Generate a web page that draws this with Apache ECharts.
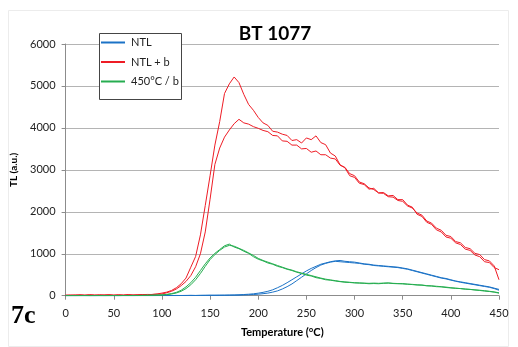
<!DOCTYPE html>
<html>
<head>
<meta charset="utf-8">
<script src="https://cdn.jsdelivr.net/npm/echarts@6/dist/echarts.min.js"></script>
<style>
  html, body { margin: 0; padding: 0; background: #fff; }
  #chart { width: 518px; height: 347px; }
</style>
</head>
<body>
<div id="chart"></div>
<script>
// Temperature grid (°C)
var temps = [0,5,10,15,20,25,30,35,40,45,50,55,60,65,70,75,80,85,90,95,
  100,105,110,115,120,125,130,135,140,145,150,155,160,165,170,175,180,185,190,195,
  200,205,210,215,220,225,230,235,240,245,250,255,260,265,270,275,280,285,290,295,
  300,305,310,315,320,325,330,335,340,345,350,355,360,365,370,375,380,385,390,395,
  400,405,410,415,420,425,430,435,440,445,450];

// NTL + b, two aliquots
var ntlbA = [10,18,8,22,14,20,9,24,15,19,12,21,16,26,14,22,27,20,31,42,
  62,85,125,190,285,420,680,935,1450,2150,2860,3590,4150,4820,5050,5214,5080,4800,4560,4420,
  4250,4120,4060,3920,3900,3850,3820,3700,3720,3640,3760,3720,3810,3650,3600,3400,3330,3120,3050,2860,
  2820,2680,2650,2540,2560,2450,2460,2380,2390,2290,2290,2160,2110,1940,1890,1750,1700,1570,1520,1400,
  1370,1260,1220,1110,1080,970,930,810,790,670,620];
var ntlbB = [12,8,20,15,10,22,18,9,16,24,13,19,11,23,17,21,25,30,28,35,
  40,70,105,160,240,340,480,690,1000,1520,2300,3130,3520,3780,3950,4100,4205,4120,4090,4030,
  3990,3940,3910,3820,3810,3690,3680,3590,3590,3500,3510,3420,3450,3360,3360,3280,3260,3110,3060,2910,
  2860,2710,2670,2570,2530,2450,2440,2360,2350,2270,2250,2140,2090,1970,1920,1780,1730,1610,1560,1440,
  1410,1290,1260,1150,1120,1010,980,860,830,710,380];

// 450°C / b, two aliquots
var regA = [0,2,0,3,1,0,2,4,1,0,3,2,5,3,6,4,8,10,12,15,
  20,32,50,80,130,210,310,440,600,760,900,1010,1100,1190,1230,1160,1120,1060,1010,930,
  870,830,780,750,700,670,630,600,560,530,490,470,430,410,380,370,350,335,320,315,
  305,300,295,285,290,285,295,300,290,285,290,275,265,255,250,235,230,215,210,195,
  185,175,170,155,150,135,125,110,100,85,60];
var regB = [1,0,2,1,3,0,1,2,0,4,2,1,3,5,2,6,5,9,11,13,
  15,25,40,65,105,170,260,380,530,700,860,980,1080,1160,1200,1180,1130,1080,1020,960,
  890,840,800,760,720,680,640,610,570,540,510,480,450,420,395,375,360,340,330,320,
  310,305,300,295,300,295,300,305,295,290,280,275,270,260,255,240,235,225,215,205,
  190,180,170,160,150,140,130,120,105,90,70];

// NTL, two aliquots
var ntlA = [0,1,0,2,0,1,0,0,2,1,0,1,2,0,1,3,2,1,2,4,3,5,4,6,5,7,8,6,9,10,12,11,14,13,16,18,
  22,28,35,45,60,80,105,140,190,245,310,380,450,520,590,650,700,750,780,810,830,840,820,810,
  800,780,760,750,730,720,710,700,690,680,660,640,610,580,550,520,490,460,430,410,
  380,350,330,310,290,270,250,230,210,180,150];
var ntlB = [0,0,1,0,2,1,0,1,0,2,1,0,1,2,1,0,2,3,1,2,3,2,4,3,5,4,6,5,6,7,8,9,8,10,11,12,
  14,18,22,28,36,48,62,85,115,160,215,280,360,440,520,600,670,730,770,800,820,810,800,790,
  780,770,750,740,720,710,700,690,680,670,650,630,600,570,540,510,480,450,420,400,
  370,345,320,300,280,260,240,220,200,170,130];

var xTicks = [0, 450, 50];     // min, max, step
var yTicks = [0, 6000, 1000];

var font = 'Lato, "Open Sans", sans-serif';
var colBlue = '#1b72c6', colRed = '#ee1c25', colGreen = '#26ad50';

function pairs(vals) {
  return temps.map(function (t, i) { return [t, vals[i]]; });
}
function curve(name, vals, color) {
  return {
    name: name, type: 'line', data: pairs(vals),
    showSymbol: false, symbol: 'none', smooth: false,
    lineStyle: { color: color, width: 1 }, itemStyle: { color: color },
    animation: false
  };
}

var chart = echarts.init(document.getElementById('chart'), null, { renderer: 'canvas' });
chart.setOption({
  backgroundColor: '#fff',
  animation: false,
  grid: { left: 65.6, right: 19, top: 44, bottom: 51.3, containLabel: false },
  legend: {
    orient: 'vertical', left: 101, top: 37, padding: 0, itemGap: 8.5,
    itemWidth: 24, itemHeight: 2, icon: 'rect',
    data: ['NTL', 'NTL + b', '450°C / b'],
    textStyle: { fontFamily: font, fontSize: 11, color: '#222', padding: [0, 0, 0, 1] },
    z: 10
  },
  xAxis: {
    type: 'value', min: xTicks[0], max: xTicks[1], interval: xTicks[2],
    name: 'Temperature (°C)', nameLocation: 'middle', nameGap: 31,
    nameTextStyle: { fontFamily: font, fontWeight: 'bold', fontSize: 11, color: '#000' },
    axisLine: { show: true, lineStyle: { color: '#8c8c8c', width: 1 } },
    axisTick: { show: true, inside: false, length: 4, lineStyle: { color: '#8c8c8c' } },
    axisLabel: { fontFamily: font, fontSize: 11, color: '#222', margin: 12 },
    splitLine: { show: false }
  },
  yAxis: {
    type: 'value', min: yTicks[0], max: yTicks[1], interval: yTicks[2],
    name: 'TL (a.u.)', nameLocation: 'middle', nameGap: 42, nameRotate: 90,
    nameTextStyle: { fontFamily: font, fontWeight: 'bold', fontSize: 10, color: '#000' },
    axisLine: { show: true, lineStyle: { color: '#8c8c8c', width: 1 } },
    axisTick: { show: true, inside: false, length: 4, lineStyle: { color: '#8c8c8c' } },
    axisLabel: { fontFamily: font, fontSize: 11, color: '#222', margin: 10,
                 formatter: function (v) { return String(v); } },
    splitLine: { show: true, lineStyle: { color: '#b4b4b4', width: 1 } }
  },
  graphic: [
    { type: 'rect', left: 6, top: 8, z: -10, silent: true,
      shape: { width: 500, height: 336 },
      style: { fill: 'none', stroke: '#ececec', lineWidth: 1 } },
    { type: 'rect', left: 99, top: 33, z: 1, silent: true,
      shape: { width: 82, height: 66 },
      style: { fill: '#fff', stroke: '#454545', lineWidth: 1 } },
    { type: 'text', x: 275, y: 34, z: 10,
      style: { text: 'BT 1077', fontFamily: font, fontWeight: 'bold', fontSize: 19,
               fill: '#000', align: 'center', verticalAlign: 'middle' } },
    { type: 'text', left: 11, top: 303, z: 10,
      style: { text: '7c', fontFamily: '"Liberation Serif", "DejaVu Serif", serif',
               fontWeight: 'bold', fontSize: 26, fill: '#000' } }
  ],
  series: [
    curve('NTL', ntlA, colBlue),
    curve('NTL', ntlB, colBlue),
    curve('NTL + b', ntlbA, colRed),
    curve('NTL + b', ntlbB, colRed),
    curve('450°C / b', regA, colGreen),
    curve('450°C / b', regB, colGreen)
  ]
});
</script>
</body>
</html>
